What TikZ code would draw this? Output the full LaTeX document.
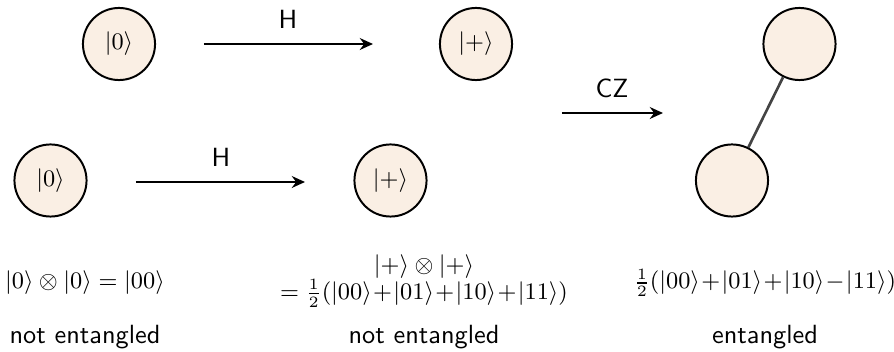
\documentclass[tikz,border=0pt]{standalone}
\usepackage{sansmath}
\usetikzlibrary{arrows.meta}
\definecolor{qfill}{HTML}{FAEFE4}
\definecolor{linkgray}{HTML}{444444}
\newcommand{\kk}[1]{|#1\rangle}
\newcommand{\mfont}{\fontsize{9.2}{11}\selectfont\sffamily\sansmath}
\tikzset{
  qubit/.style={circle,draw=black,line width=0.75pt,fill=qfill,minimum size=27.4pt,inner sep=0pt,font=\mfont},
  gate/.style={-{Stealth[length=5pt,width=4.5pt]},line width=0.8pt,black},
  glabel/.style={font=\sffamily\sansmath,inner sep=0pt,anchor=base},
  txt/.style={font=\mfont,inner sep=0pt,align=center},
  caption/.style={font=\sffamily,inner sep=0pt,anchor=base},
  link/.style={draw=linkgray,line width=1pt}
}
\begin{document}
\begin{tikzpicture}[x=0.38pt,y=-0.38pt]
\useasboundingbox (0,0) rectangle (894,352);
% qubits
\node[qubit] (q1) at (119,44) {$\kk{0}$};
\node[qubit] (q2) at (476,44) {$\kk{+}$};
\node[qubit] (q3) at (50.5,180.5) {$\kk{0}$};
\node[qubit] (q4) at (390.5,180.5) {$\kk{+}$};
\node[qubit] (q5) at (799.5,44) {};
\node[qubit] (q6) at (732,180.5) {};
\draw[link] (q5) -- (q6);
% arrows
\coordinate (a1s) at (204,44);
\coordinate (a1e) at (373,44);
\coordinate (a2s) at (136,182);
\coordinate (a2e) at (305,182);
\coordinate (a3s) at (562,113);
\coordinate (a3e) at (663,113);
\draw[gate] (a1s) -- (a1e);
\draw[gate] (a2s) -- (a2e);
\draw[gate] (a3s) -- (a3e);
\node[glabel] (h1) at (288,29) {H};
\node[glabel] (h2) at (221,167) {H};
\node[glabel] (cz) at (612,98) {CZ};
% states
\node[txt] (s1) at (85,283) {$\kk{0}\otimes\kk{0}=\kk{00}$};
\node[txt] (s2) at (424,281) {$\kk{+}\otimes\kk{+}$\\[-0.5pt]
  $=\frac{1}{2}(\kk{00}\!+\!\kk{01}\!+\!\kk{10}\!+\!\kk{11})$};
\node[txt] (s3) at (765,283) {$\frac{1}{2}(\kk{00}\!+\!\kk{01}\!+\!\kk{10}\!-\!\kk{11})$};
\node[caption] (e1) at (85,344) {not entangled};
\node[caption] (e2) at (424,344) {not entangled};
\node[caption] (e3) at (765,344) {entangled};
\end{tikzpicture}
\end{document}
